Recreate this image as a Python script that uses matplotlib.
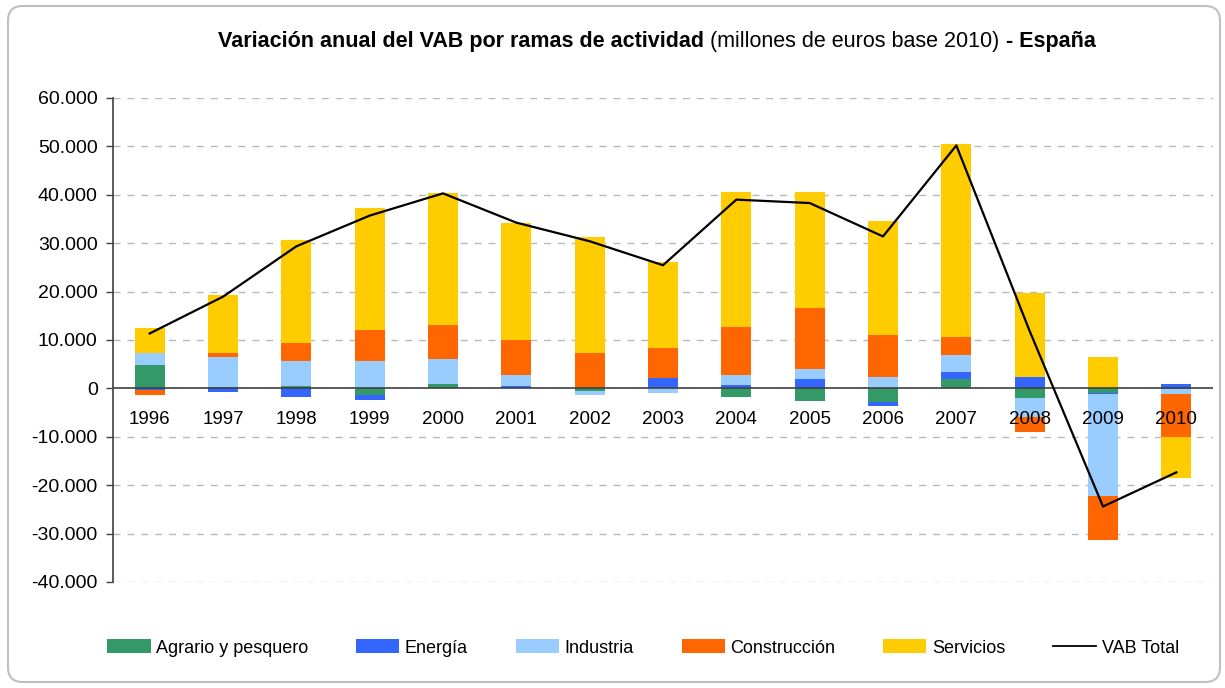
import matplotlib
matplotlib.use("Agg")
import matplotlib.pyplot as plt
import numpy as np
from matplotlib.patches import FancyBboxPatch, Patch
from matplotlib.lines import Line2D
from matplotlib.ticker import FuncFormatter, FixedLocator

years = ["1996", "1997", "1998", "1999", "2000", "2001", "2002", "2003",
         "2004", "2005", "2006", "2007", "2008", "2009", "2010"]
agrario = [4860, 200, 500, -1400, 900, 0, -500, 0, -1800, -2600, -2800, 1900, -2000, -900, -200]
energia = [-250, -700, -1800, -950, 0, 500, 0, 2200, 600, 1950, -850, 1550, 2400, -300, 950]
industria = [2500, 6300, 5200, 5700, 5200, 2300, -900, -1000, 2100, 2100, 2350, 3350, -4000, -21000, -1000]
construccion = [-1100, 850, 3750, 6450, 7100, 7300, 7350, 6200, 10000, 12500, 8750, 3750, -3000, -9100, -8900]
servicios = [5200, 11850, 21250, 25100, 27100, 24150, 24000, 17800, 27800, 24050, 23500, 39950, 17250, 6500, -8400]
vab_total = [11350, 18950, 29350, 35700, 40300, 34250, 30400, 25450, 39000, 38300, 31400, 50200, 11850, -24400, -17350]

series_names = ["Agrario y pesquero", "Energía", "Industria", "Construcción", "Servicios"]
series_vals = [agrario, energia, industria, construccion, servicios]
colors = ["#339966", "#3366FF", "#99CCFF", "#FF6600", "#FFCC00"]
y_ticks = [-40000, -30000, -20000, -10000, 0, 10000, 20000, 30000, 40000, 50000, 60000]

FONT = "Liberation Sans"
plt.rcParams["font.family"] = [FONT, "DejaVu Sans"]

fig = plt.figure(figsize=(12.25, 6.88), dpi=100)
ax = fig.add_axes([113/1225, 1 - 582/688, (1213 - 113)/1225, (582 - 98)/688])

x = np.arange(len(years))
pos_base = np.zeros(len(years))
neg_base = np.zeros(len(years))
width = 0.41
for name, vals, col in zip(series_names, series_vals, colors):
    v = np.array(vals, dtype=float)
    bottoms = np.where(v >= 0, pos_base, neg_base)
    ax.bar(x, v, width, bottom=bottoms, color=col, zorder=3, linewidth=0)
    pos_base = pos_base + np.where(v >= 0, v, 0)
    neg_base = neg_base + np.where(v < 0, v, 0)

ax.plot(x, vab_total, color="black", lw=1.6, zorder=5)

ax.set_xlim(-0.5, len(years) - 0.5)
ax.set_ylim(-40000, 60000)
ax.yaxis.set_major_locator(FixedLocator(y_ticks))
ax.yaxis.set_major_formatter(FuncFormatter(lambda v, p: f"{int(v):,}".replace(",", ".")))
ax.tick_params(axis="y", length=5, width=1, color="#404040", pad=6, labelsize=14, direction="out")
ax.set_xticks([])
for s in ["top", "right", "bottom"]:
    ax.spines[s].set_visible(False)
ax.spines["left"].set_color("#404040")
ax.spines["left"].set_linewidth(1.2)
for t in y_ticks:
    if t != 0:
        ax.axhline(t, color="#b8b8b8", lw=1, ls=(0, (5, 5)), zorder=1)
ax.axhline(0, color="#404040", lw=1.2, zorder=4)

for i, yl in enumerate(years):
    ax.annotate(yl, xy=(i, 0), xytext=(0, -36 * 72 / 100), textcoords="offset points",
                ha="center", va="baseline", fontsize=13.5, zorder=6)

# Title with mixed weights
renderer = fig.canvas.get_renderer()
parts = [("Variación anual del VAB por ramas de actividad", "bold"),
         (" (millones de euros base 2010) ", "normal"),
         ("- España", "bold")]
tsize = 15.5
texts = []
widths = []
for s, w in parts:
    t = fig.text(0, 1 - 47/688, s, fontsize=tsize, fontweight=w, ha="left", va="baseline")
    bb = t.get_window_extent(renderer=renderer)
    texts.append(t)
    widths.append(bb.width)
total = sum(widths)
start = 657 - total / 2
cur = start
for t, wdt in zip(texts, widths):
    t.set_x(cur / 1225)
    cur += wdt

# Legend
handles = [Patch(facecolor=c, edgecolor="none") for c in colors]
handles.append(Line2D([0], [0], color="black", lw=1.3))
labels = series_names + ["VAB Total"]
fig.legend(handles, labels, loc="center", bbox_to_anchor=(0.525, 1 - 648/688), ncol=6,
           frameon=False, fontsize=13, handlelength=2.4, handleheight=0.8,
           handletextpad=0.3, columnspacing=2.65)

# Rounded border
border = FancyBboxPatch((8/1225, 6/688), 1212/1225, 676/688,
                        boxstyle="round,pad=0,rounding_size=0.012",
                        transform=fig.transFigure, fill=False, edgecolor="#bfbfbf", lw=1.5,
                        mutation_aspect=1225/688)
fig.patches.append(border)

fig.savefig("out.png", dpi=100)
